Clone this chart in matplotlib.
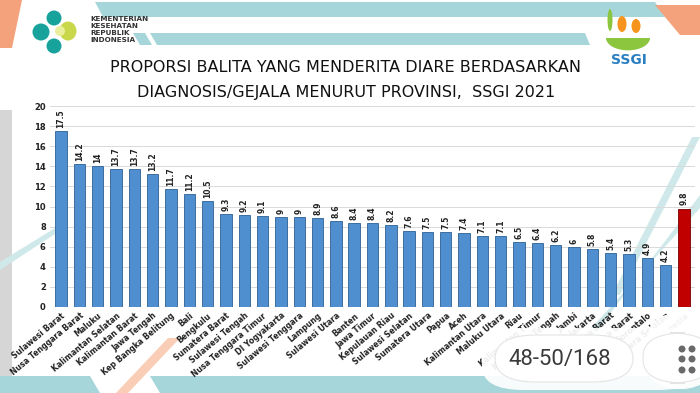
import matplotlib
matplotlib.use("Agg")
import matplotlib.pyplot as plt
from matplotlib.patches import Polygon, FancyBboxPatch, Ellipse, Wedge

provinces = [
    "Sulawesi Barat", "Nusa Tenggara Barat", "Maluku", "Kalimantan Selatan",
    "Kalimantan Barat", "Jawa Tengah", "Kep Bangka Belitung", "Bali", "Bengkulu",
    "Sumatera Barat", "Sulawesi Tengah", "Nusa Tenggara Timur", "DI Yogyakarta",
    "Sulawesi Tenggara", "Lampung", "Sulawesi Utara", "Banten", "Jawa Timur",
    "Kepulauan Riau", "Sulawesi Selatan", "Sumatera Utara", "Papua", "Aceh",
    "Kalimantan Utara", "Maluku Utara", "Riau", "Kalimantan Timur",
    "Kalimantan Tengah", "Jambi", "DKI Jakarta", "Jawa Barat", "Papua Barat",
    "Gorontalo", "Sumatera Selatan", "Indonesia",
]
values = [
    17.5, 14.2, 14, 13.7, 13.7, 13.2, 11.7, 11.2, 10.5, 9.3, 9.2, 9.1, 9, 9,
    8.9, 8.6, 8.4, 8.4, 8.2, 7.6, 7.5, 7.5, 7.4, 7.1, 7.1, 6.5, 6.4, 6.2, 6,
    5.8, 5.4, 5.3, 4.9, 4.2, 9.8,
]
y_ticks = [0, 2, 4, 6, 8, 10, 12, 14, 16, 18, 20]

W, H = 700, 393


def px(x, y):
    # pixel coords (top-left origin) -> figure fraction
    return (x / W, 1 - y / H)


def poly(fig, pts, color, z=-1):
    fig.patches.append(Polygon([px(*p) for p in pts], closed=True,
                               transform=fig.transFigure, color=color, zorder=z, lw=0))


def blob(fig, x, y, w, h, color, z=1):
    fig.patches.append(Ellipse(px(x, y), w / W, h / H, transform=fig.transFigure,
                               color=color, zorder=z, lw=0))


def pill(fig, x0, y0, x1, y1, r, z=10, ec="#e4e4e4", alpha=1.0):
    fig.patches.append(FancyBboxPatch(px(x0, y1), (x1 - x0) / W, (y1 - y0) / H,
                                      boxstyle=f"round,pad=0,rounding_size={r}",
                                      transform=fig.transFigure, facecolor="white",
                                      edgecolor=ec, lw=0.8, alpha=alpha, zorder=z))


fig = plt.figure(figsize=(7, 3.93), dpi=100)
fig.patch.set_facecolor("white")

# slide template decoration
teal = "#a6d6da"
light_teal = "#cfe9eb"
orange = "#f4a27c"
poly(fig, [(95, 2), (655, 2), (665, 17), (103, 17)], teal)
poly(fig, [(150, 33), (585, 33), (590, 45), (157, 45)], teal)
poly(fig, [(133, 33), (145, 33), (152, 45), (140, 45)], teal)
poly(fig, [(0, 0), (22, 0), (12, 48), (0, 48)], orange)
poly(fig, [(655, 5), (700, 5), (700, 35), (680, 35)], orange)
poly(fig, [(0, 110), (12, 110), (12, 390), (0, 390)], "#d6d6d6")
poly(fig, [(0, 376), (90, 376), (100, 393), (0, 393)], teal)
poly(fig, [(150, 376), (700, 376), (700, 393), (160, 393)], teal)
poly(fig, [(168, 338), (180, 338), (128, 393), (116, 393)], "#f9cdb6")
poly(fig, [(612, 295), (620, 295), (700, 137), (692, 137)], light_teal)
poly(fig, [(585, 335), (594, 335), (700, 195), (700, 208)], light_teal)
poly(fig, [(0, 262), (55, 228), (55, 234), (0, 270)], light_teal)

# Kemenkes logo + name
blob(fig, 41, 32, 17, 17, "#17a39b")
blob(fig, 54, 18, 15, 15, "#17a39b")
blob(fig, 54, 46, 15, 15, "#17a39b")
blob(fig, 68, 31, 17, 19, "#c9d84b")
blob(fig, 60, 31, 10, 10, "#e9ef9a")
fig.text(90 / W, 1 - 16 / H, "KEMENTERIAN\nKESEHATAN\nREPUBLIK\nINDONESIA", fontsize=5.2,
         fontweight="bold", color="#333333", va="top", ha="left", linespacing=1.2)

# SSGI logo
fig.patches.append(Wedge(px(628, 38), 22 / W, 180, 360, transform=fig.transFigure,
                         color="#8cc63f", zorder=1, lw=0))
blob(fig, 622, 24, 9, 16, "#f7941d")
blob(fig, 636, 26, 9, 14, "#f7941d")
blob(fig, 610, 20, 5, 22, "#8cc63f")
fig.text(629 / W, 1 - 60 / H, "SSGI", fontsize=10, fontweight="bold", color="#2a7fc1",
         ha="center", va="center")

# title
fig.text(346 / W, 1 - 68 / H, "PROPORSI BALITA YANG MENDERITA DIARE BERDASARKAN",
         fontsize=11.5, ha="center", va="center", color="#111111")
fig.text(346 / W, 1 - 92 / H, "DIAGNOSIS/GEJALA MENURUT PROVINSI,  SSGI 2021",
         fontsize=11.5, ha="center", va="center", color="#111111")

ax = fig.add_axes([50 / W, 86 / H, 645 / W, 201 / H])
ax.patch.set_alpha(0)
colors = ["#4f8fd0"] * (len(values) - 1) + ["#c00000"]
edges = ["#2d5f95"] * (len(values) - 1) + ["#7a0000"]
x = list(range(len(values)))
ax.bar(x, values, width=0.62, color=colors, edgecolor=edges, linewidth=0.6, zorder=3)
for xi, v in zip(x, values):
    ax.text(xi, v + 0.3, f"{v:g}", rotation=90, ha="center", va="bottom",
            fontsize=5.5, fontweight="bold", color="#222222")

ax.set_ylim(0, 20)
ax.set_xlim(-0.6, len(values) - 0.4)
ax.set_yticks(y_ticks)
ax.set_yticklabels([str(t) for t in y_ticks], fontsize=6, fontweight="bold", color="#222222")
ax.set_xticks(x)
ax.set_xticklabels(provinces, rotation=40, ha="right", rotation_mode="anchor",
                   fontsize=5.6, fontweight="bold", color="#222222")
ax.tick_params(axis="both", length=0, pad=3)
ax.grid(axis="y", color="#d9d9d9", linewidth=0.7, zorder=0)
for s in ax.spines.values():
    s.set_visible(False)

# page counter overlay from the screenshot (soft white area hides the labels)
pill(fig, 482, 328, 700, 390, 0.06, z=9, ec="none", alpha=0.93)
pill(fig, 648, 312, 712, 390, 0.06, z=9, ec="none", alpha=0.95)
pill(fig, 495, 335, 633, 382, 0.06)
fig.text(560 / W, 1 - 360 / H, "48-50/168", fontsize=16, color="#3a3a3a", ha="center",
         va="center", zorder=11, family="Roboto")
pill(fig, 643, 333, 712, 383, 0.06)
for dx in (682, 692):
    for dy in (349, 359, 370):
        blob(fig, dx, dy, 7, 7, "#6a6a6a", z=11)

fig.savefig("out.png", dpi=100)
